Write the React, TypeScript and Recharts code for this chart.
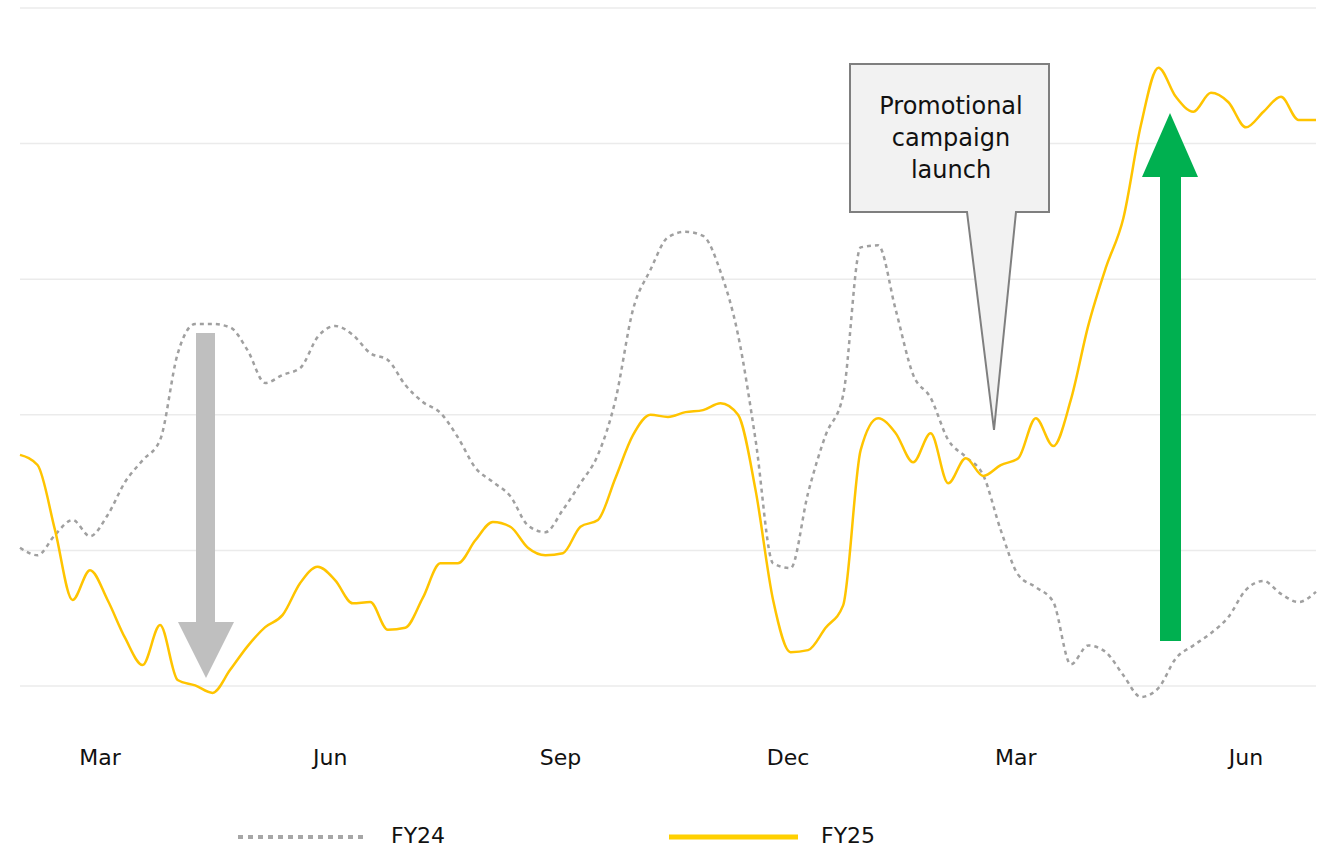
import { LineChart, Line, XAxis, YAxis, CartesianGrid, Legend, Customized } from "recharts";

const FONT = "'DejaVu Sans', sans-serif";

// weekly points, first week starting 28 Jan 2023
const START = Date.UTC(2023, 0, 28);
const WEEK = 7 * 24 * 3600 * 1000;

const fy24 = [
  20.4, 19.3, 22.3, 24.5, 22.1, 25.2, 30.1, 33.3, 36.3, 49.0,
  53.4, 53.4, 52.9, 49.5, 44.7, 45.9, 46.9, 51.5, 53.1, 51.8,
  49.1, 48.1, 44.4, 41.9, 40.3, 36.7, 32.2, 30.1, 28.0, 23.7,
  22.7, 26.0, 29.9, 34.1, 42.2, 55.5, 61.4, 66.2, 67.0, 66.4,
  61.1, 51.8, 36.3, 18.1, 17.4, 28.5, 37.0, 42.9, 64.7, 65.0,
  55.5, 45.9, 42.5, 36.3, 33.8, 31.1, 23.0, 16.4, 14.6, 12.4,
  3.2, 6.0, 5.0, 1.6, -1.6, -0.3, 4.1, 6.0, 7.8, 10.2,
  14.2, 15.5, 13.6, 12.4, 13.9,
];

const fy25 = [
  34.1, 32.6, 23.0, 12.7, 17.1, 12.7, 7.1, 3.1, 9.0, 0.9,
  0.1, -1.0, 2.4, 5.9, 8.7, 10.5, 15.2, 17.6, 15.6, 12.2,
  12.4, 8.3, 8.6, 13.0, 18.1, 18.1, 21.5, 24.2, 23.5, 20.4,
  19.3, 19.6, 23.5, 24.5, 30.7, 37.0, 40.0, 39.7, 40.4, 40.7,
  41.7, 40.0, 28.9, 12.7, 5.0, 5.3, 8.6, 11.9, 34.8, 39.5,
  37.3, 33.0, 37.3, 29.9, 33.6, 31.0, 32.6, 33.6, 39.5, 35.4,
  42.2, 53.2, 61.7, 69.0, 82.7, 91.2, 86.9, 84.7, 87.5, 86.1,
  82.4, 84.7, 86.9, 83.5, 83.5,
];

const tickDates = [
  Date.UTC(2023, 2, 1),
  Date.UTC(2023, 5, 1),
  Date.UTC(2023, 8, 1),
  Date.UTC(2023, 11, 1),
  Date.UTC(2024, 2, 1),
  Date.UTC(2024, 5, 1),
];
const tickLabels = ["Mar", "Jun", "Sep", "Dec", "Mar", "Jun"];
const yTicks = [0, 20, 40, 60, 80, 100];
const Y_MIN = -5;
const Y_MAX = 100;

const data = fy24.map((v, i) => ({ date: START + i * WEEK, FY24: v, FY25: fy25[i] }));

const calloutLines = ["Promotional", "campaign", "launch"];

// grid only at the value ticks, not at the bottom edge of the plot
const gridRows = ({ offset }: any) =>
  yTicks.map((t) => offset.top + (offset.height * (Y_MAX - t)) / (Y_MAX - Y_MIN));

const Annotations = () => (
  <g>
    {/* grey arrow down */}
    <polygon
      points="196,333 215,333 215,622 234,622 206,678 178,622 196,622"
      fill="#BFBFBF"
    />
    {/* green arrow up */}
    <polygon
      points="1160,641 1181,641 1181,177 1198,177 1170,113 1142,177 1160,177"
      fill="#00B050"
    />
    {/* callout */}
    <path
      d="M850,64 L1049,64 L1049,212 L1016,212 L994,430 L967,212 L850,212 Z"
      fill="#F2F2F2"
      stroke="#7F7F7F"
      strokeWidth={2}
    />
    {calloutLines.map((t, i) => (
      <text
        key={t}
        x={951}
        y={114 + i * 32}
        textAnchor="middle"
        fontFamily={FONT}
        fontSize={24}
        fill="#111"
      >
        {t}
      </text>
    ))}
  </g>
);

const LegendContent = () => (
  <div style={{ position: "relative", height: 26, fontFamily: FONT, fontSize: 22, color: "#111" }}>
    <svg width={130} height={10} style={{ position: "absolute", left: 238, top: 9 }}>
      <line x1={0} y1={5} x2={126} y2={5} stroke="#A6A6A6" strokeWidth={4} strokeDasharray="5 5" />
    </svg>
    <span style={{ position: "absolute", left: 391, top: 0, lineHeight: "26px" }}>FY24</span>
    <svg width={130} height={10} style={{ position: "absolute", left: 669, top: 9 }}>
      <line x1={0} y1={5} x2={129} y2={5} stroke="#FFD000" strokeWidth={5} />
    </svg>
    <span style={{ position: "absolute", left: 821, top: 0, lineHeight: "26px" }}>FY25</span>
  </div>
);

export default function App() {
  return (
    <div style={{ position: "absolute", left: 0, top: 0, background: "#fff" }}>
      <LineChart
        width={1324}
        height={849}
        data={data}
        margin={{ top: 8, right: 8, left: 20, bottom: 0 }}
      >
        <CartesianGrid
          vertical={false}
          stroke="#EBEBEB"
          strokeWidth={1.5}
          horizontalCoordinatesGenerator={gridRows}
        />
        <XAxis
          dataKey="date"
          type="number"
          scale="time"
          domain={["dataMin", "dataMax"]}
          ticks={tickDates}
          tickFormatter={(v, i) => tickLabels[i]}
          axisLine={false}
          tickLine={false}
          tickMargin={23}
          height={103}
          tick={{ fill: "#111", fontSize: 22, fontFamily: FONT }}
        />
        <YAxis hide domain={[Y_MIN, Y_MAX]} ticks={yTicks} />
        <Legend
          verticalAlign="bottom"
          content={<LegendContent />}
          wrapperStyle={{ left: 0, bottom: 0, width: 1324, height: 26 }}
        />
        <Line
          type="monotone"
          dataKey="FY24"
          stroke="#A0A0A0"
          strokeWidth={2.5}
          strokeDasharray="4 4"
          dot={false}
          activeDot={false}
          isAnimationActive={false}
        />
        <Line
          type="monotone"
          dataKey="FY25"
          stroke="#FFC400"
          strokeWidth={2.5}
          dot={false}
          activeDot={false}
          isAnimationActive={false}
        />
        <Customized component={Annotations} />
      </LineChart>
    </div>
  );
}
